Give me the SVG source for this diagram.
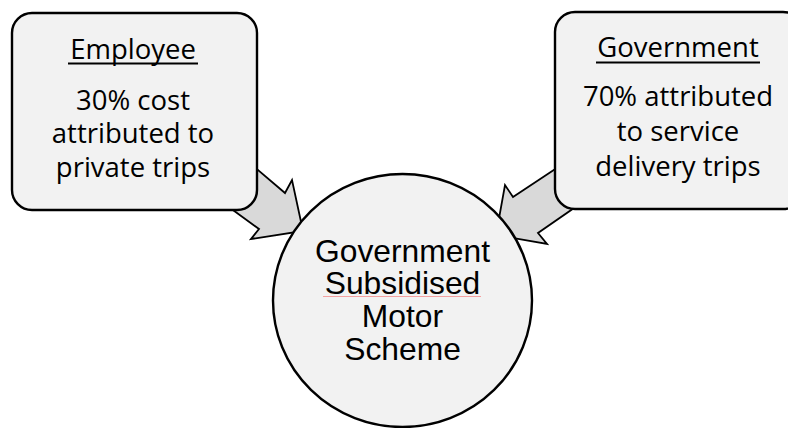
<svg xmlns="http://www.w3.org/2000/svg" width="788" height="428" viewBox="0 0 788 428">
<style>
.box{fill:#f2f2f2;stroke:#000;stroke-width:2.4}
.arr{fill:#d9d9d9;stroke:#000;stroke-width:1.8;stroke-linejoin:miter}
.t{font-family:"Open Sans","Liberation Sans",sans-serif;font-size:27.5px;fill:#000;text-anchor:middle}
.c{font-family:"Liberation Sans",Arial,sans-serif;font-size:31.8px;fill:#000;text-anchor:middle}
.ul{stroke:#000;stroke-width:1.8}
</style>
<rect width="788" height="428" fill="#fff"/>
<g id="connectors">
<polygon class="arr" points="225,142 285,193 292,180 303,231 251,239 259,229 200,186"/>
<polygon class="arr" points="590,146 513,197 505,185 496,235 547,244 538,233 600,190"/>
</g>
<g id="node-center">
<ellipse class="box" cx="402.5" cy="300.5" rx="129.5" ry="126.5"/>
<text class="c" x="402.5" y="262">Government</text>
<text class="c" x="402.5" y="294">Subsidised</text>
<line x1="323" y1="296.5" x2="481" y2="296.5" stroke="#f4a0a0" stroke-width="1"/>
<text class="c" x="402.5" y="327">Motor</text>
<text class="c" x="402.5" y="360">Scheme</text>
</g>
<g id="node-employee">
<rect class="box" x="12" y="13" width="245" height="197" rx="20"/>
<text class="t" x="133" y="59">Employee</text>
<line class="ul" x1="68" y1="63.5" x2="198" y2="63.5"/>
<text class="t" x="133" y="110">30% cost</text>
<text class="t" x="133" y="143">attributed to</text>
<text class="t" x="133" y="177">private trips</text>
</g>
<g id="node-government">
<rect class="box" x="555" y="12" width="248" height="197" rx="20"/>
<text class="t" x="678" y="57">Government</text>
<line class="ul" x1="596" y1="62.5" x2="760" y2="62.5"/>
<text class="t" x="678" y="106">70% attributed</text>
<text class="t" x="678" y="141">to service</text>
<text class="t" x="678" y="176">delivery trips</text>
</g>
</svg>
